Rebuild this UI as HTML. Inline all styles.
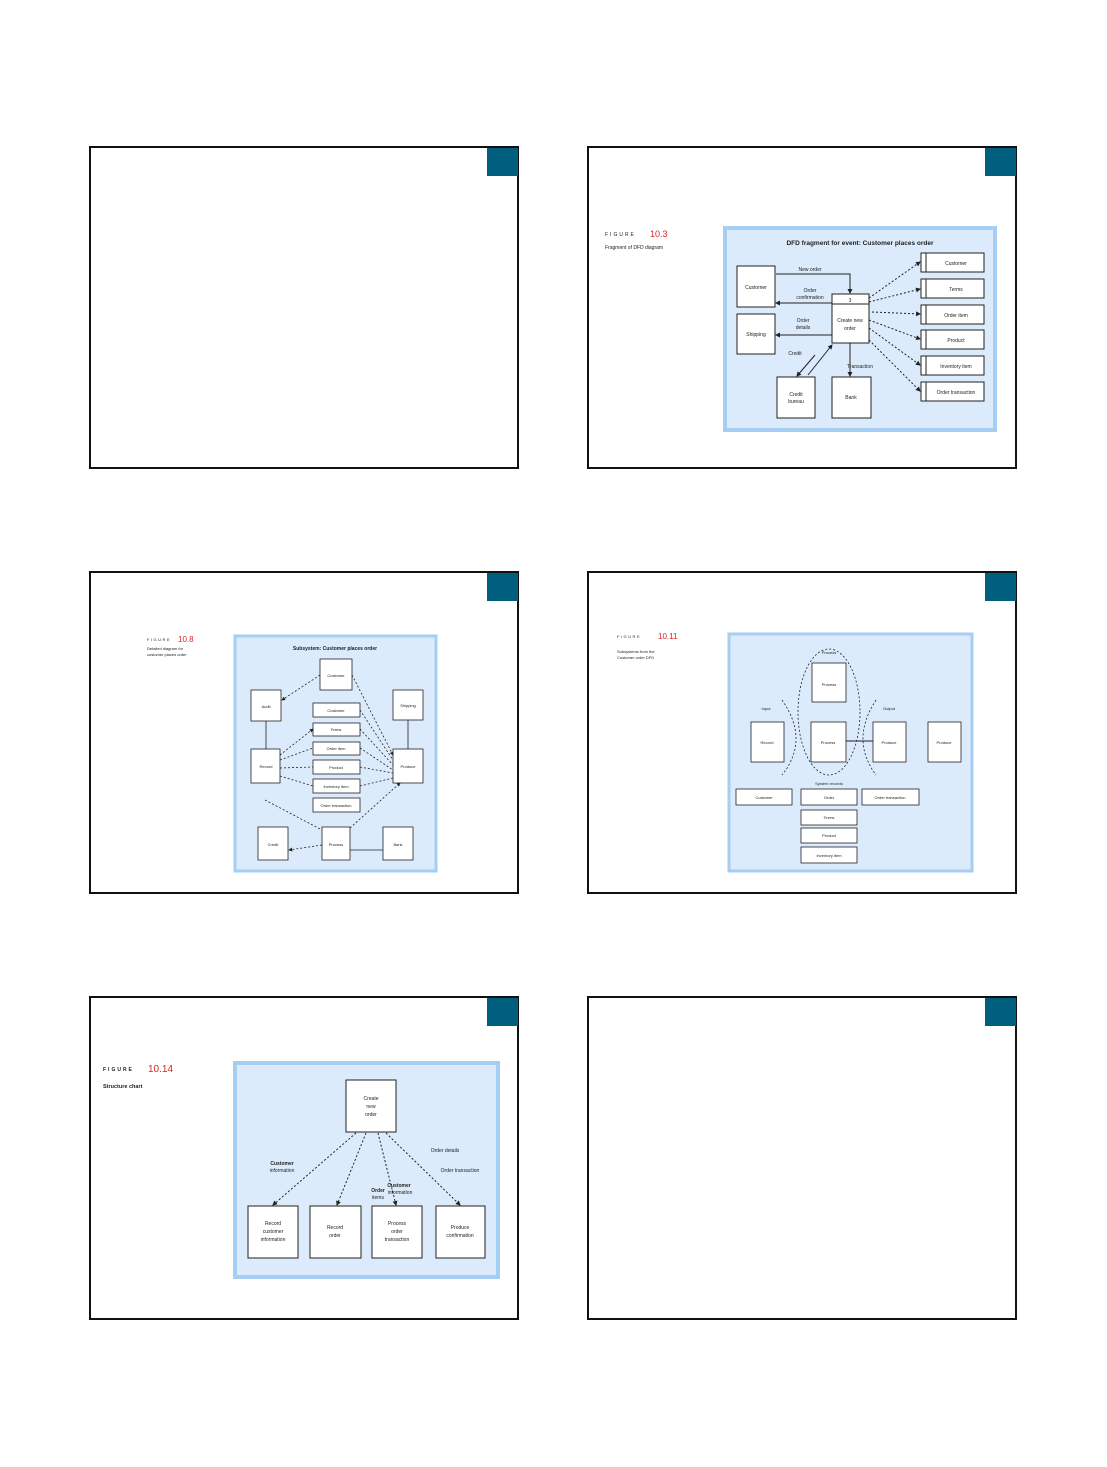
<!DOCTYPE html>
<html><head><meta charset="utf-8"><style>
html,body{margin:0;padding:0;background:#fff}
svg{display:block}
text{font-family:"Liberation Sans",sans-serif;fill:#222}
</style></head><body>
<svg width="1107" height="1467" viewBox="0 0 1107 1467" xmlns="http://www.w3.org/2000/svg">
<defs>
<marker id="a" markerWidth="5" markerHeight="5" refX="4" refY="2.5" orient="auto"><path d="M0,0L5,2.5L0,5z" fill="#222"/></marker>
</defs>
<g fill="none" stroke="#111" stroke-width="2">
<rect x="90" y="147" width="428" height="321"/>
<rect x="588" y="147" width="428" height="321"/>
<rect x="90" y="572" width="428" height="321"/>
<rect x="588" y="572" width="428" height="321"/>
<rect x="90" y="997" width="428" height="322"/>
<rect x="588" y="997" width="428" height="322"/>
</g>
<g fill="#005f7f">
<rect x="487" y="148" width="31" height="28"/>
<rect x="985" y="148" width="31" height="28"/>
<rect x="487" y="573" width="31" height="28"/>
<rect x="985" y="573" width="31" height="28"/>
<rect x="487" y="998" width="31" height="28"/>
<rect x="985" y="998" width="31" height="28"/>
</g>

<!-- Slide 2 -->
<text x="605" y="236" font-size="5" letter-spacing="2">FIGURE</text>
<text x="650" y="237" font-size="9" fill="#d22" style="fill:#d22">10.3</text>
<text x="605" y="249" font-size="5">Fragment of DFD diagram</text>
<rect x="725" y="228" width="270" height="202" fill="#dcebfb" stroke="#a6cdf2" stroke-width="4"/>
<text x="860" y="245" font-size="6.5" text-anchor="middle" font-weight="bold">DFD fragment for event: Customer places order</text>
<g fill="#fff" stroke="#222" stroke-width="1">
<rect x="737" y="266" width="38" height="41"/><rect x="737" y="314" width="38" height="40"/>
<rect x="832" y="294" width="37" height="49"/><rect x="777" y="377" width="38" height="41"/><rect x="832" y="377" width="39" height="41"/>
</g>
<line x1="832" y1="304" x2="869" y2="304" stroke="#222" stroke-width="1"/>
<g font-size="5" text-anchor="middle">
<text x="756" y="289">Customer</text><text x="756" y="336">Shipping</text><text x="850" y="302">3</text>
<text x="850" y="322">Create new</text><text x="850" y="330">order</text><text x="796" y="396">Credit</text><text x="796" y="403">bureau</text><text x="851" y="399">Bank</text>
<text x="810" y="271">New order</text><text x="810" y="292">Order</text><text x="810" y="299">confirmation</text><text x="803" y="322">Order</text><text x="803" y="329">details</text><text x="795" y="355">Credit</text><text x="860" y="368">Transaction</text>
</g>
<g stroke="#222" stroke-width="1" fill="none">
<polyline points="776,274 850,274 850,293" marker-end="url(#a)"/>
<line x1="832" y1="303" x2="776" y2="303" marker-end="url(#a)"/>
<line x1="832" y1="335" x2="776" y2="335" marker-end="url(#a)"/>
<line x1="815" y1="355" x2="797" y2="376" marker-end="url(#a)"/>
<line x1="808" y1="375" x2="832" y2="345" marker-end="url(#a)"/>
<line x1="850" y1="343" x2="850" y2="376" marker-end="url(#a)"/>
</g>
<g stroke="#222" stroke-width="1" stroke-dasharray="2,2" fill="none">
<line x1="869" y1="298" x2="920" y2="262" marker-end="url(#a)"/>
<line x1="869" y1="302" x2="920" y2="289" marker-end="url(#a)"/>
<line x1="872" y1="312" x2="920" y2="314" marker-end="url(#a)"/>
<line x1="869" y1="320" x2="920" y2="339" marker-end="url(#a)"/>
<line x1="869" y1="328" x2="920" y2="365" marker-end="url(#a)"/>
<line x1="869" y1="340" x2="920" y2="391" marker-end="url(#a)"/>
</g>
<g fill="#fff" stroke="#222" stroke-width="1">
<rect x="921" y="253" width="63" height="19"/><rect x="921" y="279" width="63" height="19"/><rect x="921" y="305" width="63" height="19"/>
<rect x="921" y="330" width="63" height="19"/><rect x="921" y="356" width="63" height="19"/><rect x="921" y="382" width="63" height="19"/>
</g>
<g stroke="#222" stroke-width="1"><line x1="926" y1="253" x2="926" y2="272"/><line x1="926" y1="279" x2="926" y2="298"/><line x1="926" y1="305" x2="926" y2="324"/><line x1="926" y1="330" x2="926" y2="349"/><line x1="926" y1="356" x2="926" y2="375"/><line x1="926" y1="382" x2="926" y2="401"/></g>
<g font-size="5" text-anchor="middle">
<text x="956" y="265">Customer</text><text x="956" y="291">Terms</text><text x="956" y="317">Order item</text><text x="956" y="342">Product</text><text x="956" y="368">Inventory item</text><text x="956" y="394">Order transaction</text>
</g>

<!-- Slide 3 -->
<text x="147" y="641" font-size="4" letter-spacing="1.5">FIGURE</text>
<text x="178" y="642" font-size="8" style="fill:#d22">10.8</text>
<text x="147" y="650" font-size="4">Detailed diagram for</text>
<text x="147" y="656" font-size="4">customer places order</text>
<rect x="235" y="636" width="201" height="235" fill="#dcebfb" stroke="#a6cdf2" stroke-width="3"/>
<text x="335" y="650" font-size="5" text-anchor="middle" font-weight="bold">Subsystem: Customer places order</text>
<g fill="#fff" stroke="#222" stroke-width="0.8">
<rect x="320" y="659" width="32" height="31"/><rect x="251" y="690" width="30" height="31"/><rect x="393" y="690" width="30" height="30"/>
<rect x="313" y="703" width="47" height="14"/><rect x="313" y="723" width="47" height="13"/><rect x="313" y="742" width="47" height="13"/>
<rect x="313" y="760" width="47" height="14"/><rect x="313" y="779" width="47" height="14"/><rect x="313" y="798" width="47" height="14"/>
<rect x="251" y="749" width="29" height="34"/><rect x="393" y="749" width="30" height="34"/>
<rect x="258" y="827" width="30" height="33"/><rect x="322" y="827" width="28" height="33"/><rect x="383" y="827" width="30" height="33"/>
</g>
<g font-size="4" text-anchor="middle">
<text x="336" y="677">Customer</text><text x="408" y="707">Shipping</text><text x="266" y="708">Audit</text>
<text x="336" y="712">Customer</text><text x="336" y="731">Terms</text><text x="336" y="750">Order item</text><text x="336" y="769">Product</text><text x="336" y="788">Inventory item</text><text x="336" y="807">Order transaction</text>
<text x="266" y="768">Record</text><text x="408" y="768">Produce</text><text x="273" y="846">Credit</text><text x="336" y="846">Process</text><text x="398" y="846">Bank</text>
</g>
<g stroke="#222" stroke-width="0.8" stroke-dasharray="2,2" fill="none">
<line x1="320" y1="675" x2="282" y2="700" marker-end="url(#a)"/>
<line x1="352" y1="675" x2="393" y2="755" marker-end="url(#a)"/>
<line x1="360" y1="710" x2="393" y2="760"/><line x1="360" y1="729" x2="393" y2="765"/><line x1="360" y1="748" x2="393" y2="770"/>
<line x1="360" y1="767" x2="393" y2="773"/><line x1="360" y1="786" x2="393" y2="778"/>
<line x1="280" y1="755" x2="313" y2="729" marker-end="url(#a)"/><line x1="280" y1="760" x2="313" y2="748"/>
<line x1="280" y1="768" x2="313" y2="767"/><line x1="280" y1="776" x2="313" y2="786"/>
<line x1="265" y1="800" x2="322" y2="830"/><line x1="350" y1="828" x2="400" y2="783" marker-end="url(#a)"/>
<line x1="322" y1="845" x2="289" y2="850" marker-end="url(#a)"/>
</g>
<g stroke="#222" stroke-width="0.8"><line x1="266" y1="721" x2="266" y2="749"/><line x1="408" y1="749" x2="408" y2="720"/><line x1="350" y1="850" x2="383" y2="850"/></g>

<!-- Slide 4 -->
<text x="617" y="638" font-size="4" letter-spacing="1.5">FIGURE</text>
<text x="658" y="639" font-size="8" style="fill:#d22">10.11</text>
<text x="617" y="653" font-size="4">Subsystems from the</text>
<text x="617" y="659" font-size="4">Customer order DFD</text>
<rect x="729" y="634" width="243" height="237" fill="#dcebfb" stroke="#a6cdf2" stroke-width="3"/>
<g fill="none" stroke="#222" stroke-width="0.8" stroke-dasharray="2,2">
<ellipse cx="829" cy="712" rx="31" ry="63"/>
<path d="M782,700 Q810,740 782,775"/><path d="M876,700 Q850,740 876,775"/>
</g>
<g fill="#fff" stroke="#222" stroke-width="0.8">
<rect x="812" y="663" width="34" height="39"/><rect x="751" y="722" width="33" height="40"/><rect x="811" y="722" width="35" height="40"/>
<rect x="873" y="722" width="33" height="40"/><rect x="928" y="722" width="33" height="40"/>
<rect x="736" y="789" width="56" height="16"/><rect x="801" y="789" width="56" height="16"/><rect x="862" y="789" width="57" height="16"/>
<rect x="801" y="810" width="56" height="15"/><rect x="801" y="828" width="56" height="15"/><rect x="801" y="847" width="56" height="16"/>
</g>
<g font-size="4" text-anchor="middle">
<text x="829" y="654">Process</text><text x="766" y="710">Input</text><text x="889" y="710">Output</text>
<text x="829" y="686">Process</text><text x="767" y="744">Record</text><text x="828" y="744">Process</text><text x="889" y="744">Produce</text><text x="944" y="744">Produce</text>
<text x="764" y="799">Customer</text><text x="829" y="799">Order</text><text x="890" y="799">Order transaction</text>
<text x="829" y="819">Terms</text><text x="829" y="837">Product</text><text x="829" y="857">Inventory item</text>
<text x="829" y="785">System records</text>
</g>
<line x1="846" y1="741" x2="873" y2="741" stroke="#222" stroke-width="1"/>

<!-- Slide 5 -->
<text x="103" y="1071" font-size="5" letter-spacing="2" font-weight="bold">FIGURE</text>
<text x="148" y="1072" font-size="10" style="fill:#d22">10.14</text>
<text x="103" y="1088" font-size="5.5" font-weight="bold">Structure chart</text>
<rect x="235" y="1063" width="263" height="214" fill="#dcebfb" stroke="#a6cdf2" stroke-width="4"/>
<g fill="#fff" stroke="#222" stroke-width="1">
<rect x="346" y="1080" width="50" height="52"/>
<rect x="248" y="1206" width="50" height="52"/><rect x="310" y="1206" width="51" height="52"/>
<rect x="372" y="1206" width="50" height="52"/><rect x="436" y="1206" width="49" height="52"/>
</g>
<g font-size="5" text-anchor="middle">
<text x="371" y="1100">Create</text><text x="371" y="1108">new</text><text x="371" y="1116">order</text>
<text x="273" y="1225">Record</text><text x="273" y="1233">customer</text><text x="273" y="1241">information</text>
<text x="335" y="1229">Record</text><text x="335" y="1237">order</text>
<text x="397" y="1225">Process</text><text x="397" y="1233">order</text><text x="397" y="1241">transaction</text>
<text x="460" y="1229">Produce</text><text x="460" y="1237">confirmation</text>
<text x="282" y="1165" font-weight="bold">Customer</text><text x="282" y="1172">information</text>
<text x="445" y="1152">Order details</text><text x="460" y="1172">Order transaction</text>
<text x="399" y="1187" font-weight="bold">Customer</text><text x="400" y="1194">information</text>
<text x="378" y="1192" font-weight="bold">Order</text><text x="378" y="1199">items</text>
</g>
<g stroke="#222" stroke-width="1" stroke-dasharray="2,2" fill="none">
<line x1="356" y1="1133" x2="273" y2="1205" marker-end="url(#a)"/>
<line x1="366" y1="1133" x2="337" y2="1205" marker-end="url(#a)"/>
<line x1="378" y1="1133" x2="396" y2="1205" marker-end="url(#a)"/>
<line x1="386" y1="1133" x2="460" y2="1205" marker-end="url(#a)"/>
</g>
</svg>
</body></html>
